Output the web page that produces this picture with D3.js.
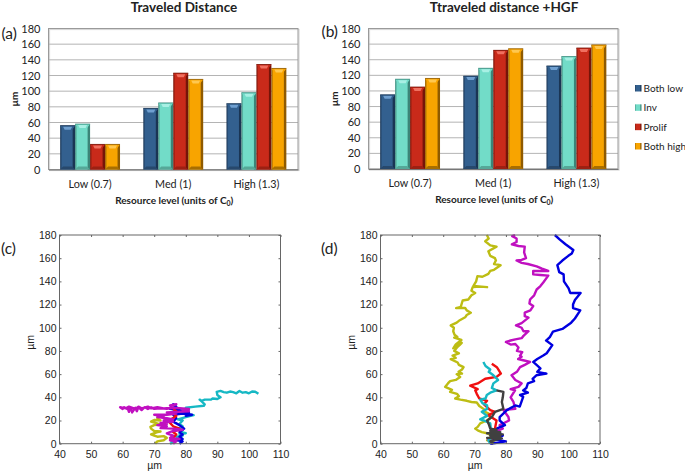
<!DOCTYPE html>
<html><head><meta charset="utf-8">
<script src="https://cdn.jsdelivr.net/npm/d3@7"></script>
<style>html,body{margin:0;padding:0;background:#fff}svg{display:block}text{fill:#222}</style>
</head><body><svg id="c" width="685" height="471"></svg>
<script>
const categories=["Low (0.7)","Med (1)","High (1.3)"];
const seriesNames=["Both low","Inv","Prolif","Both high"];
const colorsBase=["#33608f","#72dcc8","#c92a1a","#f8a400"];
const colorsDark=["#1a3554","#3b8578","#761408","#8f5a00"];
const colorsBottom=["#27486c","#55a898","#9c2012","#a86e00"];
const colorsLight=["#6f9fd0","#a8f0e4","#f07060","#ffc850"];
const valuesA=[[56,58,32,32],[78,85,123,115],[84,98,134,129]];
const valuesB=[[95,115,105,116],[119,129,152,154],[132,144,155,159]];
const yTicks=[0,20,40,60,80,100,120,140,160,180];
const xTicksTrack=[40,50,60,70,80,90,100,110];

// tracks: [x, y] in µm
const cCyan=[[75,0],[76,1],[75.5,2],[77.5,3],[78,5],[77,6],[79,7],[78,8.5],[80,9],[78.5,10],[79,12],[77.5,13],[79,15],[78,17],[79,20],[77.5,21],[80,23],[82.5,24.6],[80,25.5],[81,26],[77.5,26],[76,27.5],[78,28],[81,29.5],[80,31],[83,32],[85.7,32.7],[86,34],[85.2,36],[84.4,38],[85,37],[86,38],[88,38],[88.5,39],[90,38.5],[91,40],[90.5,41],[90,42],[89.8,44.7],[91,45.5],[92,44.5],[93,44],[94,45],[95,44.5],[96,43.5],[97,45.5],[98,44],[99,44.5],[100,43.5],[101,45],[102,44.8],[103,43]];
const cYellow=[[70.3,0],[71,2],[73,3],[74,5],[73,6.5],[71,6],[70,7],[69,8],[71,10],[72,10.5],[70,11],[69,13],[68.8,14.6],[70,16],[72,16.5],[70.9,17.5],[69,19],[70,20.5],[72,20],[71,22],[71.4,24]];
const cBlue=[[78,0],[79,2],[77.5,3],[79,4],[78,6],[79,8],[78,10],[79.5,13],[78,16],[76,19],[77,22],[76,25],[79,26],[82,25],[80,24],[81,27],[78,29],[75,30],[77,32],[76,34],[77,33]];
const cRed=[[75,3],[76,5],[77,8],[76,10],[78,13],[76,15],[75,18],[74.5,20],[76,22],[77,24],[75.5,27],[77,28],[76,30]];
const cMagenta=[[76,0],[77,2],[75,3],[78,4],[75,5],[76,7],[74,9],[76,11],[79,12],[76,13],[72,13.5],[74,15],[71,16],[74,17],[72,18],[76,19],[73,20],[76,21],[74,22],[71,23],[73,24],[70,25],[74,25],[77,26],[74,27],[81,28],[79,29],[81,30],[76,31],[74,30],[72,30.5],[70,30],[69,31.5],[68,30],[67,31.5],[66,29],[65,31.5],[64.5,28],[64,31],[63,27],[62.5,31.5],[62,27.5],[61.5,31],[62,29],[60.5,31.5],[60,30],[59.2,31.5],[61,30.5],[62,32],[64,30],[65,32],[66,30.5],[68,32],[69,30.5],[71,31.5],[73,30.5],[76,31],[75,33],[77,34],[76,33]];
const dYellow=[[75,0],[76,2],[74,3],[75.5,5],[75,7.5],[74,9],[72.3,10],[71,11.5],[70.2,13],[71,14.5],[71.8,17.5],[73,19],[74,20],[75,22],[74.5,26],[73,28],[72.9,30],[71.5,32.5],[70.7,35.5],[69,36],[67.5,37],[65.5,38],[63.8,39],[65,41],[64.4,43],[62.2,44.7],[62.8,46.5],[60.6,49],[61.5,52],[62.2,54],[64,55],[65.4,57.6],[64.3,60],[66,60.5],[64.9,62],[66,64],[66.5,66],[65,68],[64.6,70],[62.4,73],[64,74],[63,76],[65,78],[63.5,80],[64.4,83],[65.2,85],[65.9,87],[64.3,85.7],[63.2,82.3],[64,85.7],[65.8,89.5],[63.5,91.5],[64.5,92],[63.6,94],[63.2,97],[63.4,100],[62.4,102],[64.3,104.4],[65,106],[67,109],[67.5,111],[68.8,113],[67.5,115],[67,117],[64.1,117],[65.6,118],[66.2,123.5],[68,124.4],[69,128],[70.2,130],[69,132],[69.4,135],[72,135.5],[74,135],[69.6,136],[70.5,140],[70.9,144.5],[72.5,144],[74.4,146.5],[75,149],[76.2,150],[78.3,154],[76.2,155],[76.8,158],[76.5,160],[75,162],[74.4,166],[77,170],[75,171],[73.4,174.6],[74.5,177],[73.9,180]];
const dCyan=[[75,0],[74.4,3],[76,6],[75.2,12],[75,17.5],[73,20],[71.8,21],[74,24],[72.3,27.5],[74,30],[74,33],[72.5,35],[71.8,38],[73.5,39],[73.9,42],[75,44],[77,46],[75.5,48],[76,52],[77.5,55],[76,59],[74.5,62],[75,64],[73.5,67],[72.8,70.5]];
const dMagenta=[[74,3],[76,5],[75,9],[79,13],[78,16],[81,20],[80.8,23],[79.2,29],[83,30],[82.4,36],[81.5,40],[82.9,46],[81.5,47],[84,49],[85,52],[83,55],[81.8,59],[83.5,62],[84.5,66],[86,68],[87.7,70.5],[85.5,72],[83.9,73],[85,75],[84.5,76],[85.2,79],[83.5,80],[84,83],[83,86],[81.5,85.5],[80,87.7],[81.5,89],[83,90],[85,91],[85.6,93],[87.2,97],[85.6,97],[85,100],[83.2,102],[85,104],[87.2,108.7],[86,110],[86,113],[87.8,115],[88.7,118.7],[87.5,121],[87.7,124.4],[89,128],[89.8,133],[91,136],[91.9,139],[93.5,145],[91,145.5],[88.7,146],[88.7,149],[93.5,149],[91.5,151],[89.8,153],[87,155],[85,156],[83.4,158],[85,158.5],[86.4,160],[85.8,165],[86,170],[84,170.5],[81.9,172],[83.4,174],[83.4,177],[82,179],[82.9,180]];
const dBlue=[[75,0],[80,2],[76,4],[79,7],[76,12],[79.7,16],[78,20],[78,23],[80.3,29],[83,33],[84.4,32],[85.5,40.4],[84.5,42],[87,44],[85.5,46],[86.5,48],[87,52],[89,54],[88.5,56],[89.7,59],[92.9,60.5],[90,62],[91,65],[88.7,70.5],[90,73],[91.9,76],[93,78],[94.8,85],[92.8,89],[94,92],[95,96.6],[98,99],[100.8,104.4],[102,108],[103.7,115],[101.4,117],[101.4,120],[102,124],[103.8,130],[100.5,130],[100,134],[98.5,140],[98.4,146],[97,148],[96.4,154],[98,158],[99.9,162],[101,164],[101.5,167],[99,172],[97.2,176],[95.6,180]];
const dRed=[[75,0],[75.5,6],[76.5,13],[77,20],[74.4,24.6],[76.5,27.5],[75,29],[73,34],[74,37],[71.5,39],[70.7,43],[70.2,46],[71,47],[68.6,50],[71,52],[73.4,56],[77,57.6],[78.4,60.5],[77.1,66],[75.5,69]];
const dGray=[[76,0],[75,2],[78.7,4.6],[74,5],[78.2,6],[75,7],[79,8],[74,9],[78.2,10],[75,11],[77,12],[75,13],[74.5,17],[74,20],[75.5,23],[76.5,27.5],[79.2,30],[78.7,36],[79,40],[79.2,44.7],[77,46]];

const svg=d3.select("#c");
const defs=svg.append("defs");
colorsBase.forEach((c,i)=>{
  const g=defs.append("linearGradient").attr("id","bar"+i);
  [[0,colorsDark[i]],[.14,c],[.8,c],[.87,colorsDark[i]],[1,colorsDark[i]]].forEach(s=>g.append("stop").attr("offset",s[0]).attr("stop-color",s[1]));
});

function barPanel(x0,x1,yTop,yBot,values,title,titleX,tag,tagY,xLabelY,catY){
  const g=svg.append("g");
  const y=d3.scaleLinear().domain([0,180]).range([yBot,yTop]);
  const xOuter=d3.scaleBand().domain(categories).range([x0,x1]).paddingInner(.28).paddingOuter(.14);
  const xInner=d3.scaleBand().domain(seriesNames).range([0,xOuter.bandwidth()]);
  g.append("rect").attr("x",x0+1).attr("y",yTop+1).attr("width",x1-x0).attr("height",yBot-yTop).attr("fill","none").attr("stroke","#d8d8d8").attr("stroke-width",1.2);
  g.selectAll(".gl").data(yTicks).join("line").attr("x1",x0).attr("x2",x1).attr("y1",d=>y(d)).attr("y2",d=>y(d)).attr("stroke","#b4b4b4").attr("stroke-width",1);
  g.append("rect").attr("x",x0).attr("y",yTop).attr("width",x1-x0).attr("height",yBot-yTop).attr("fill","none").attr("stroke","#9a9a9a").attr("stroke-width",1);
  const ax=g.append("g").attr("transform",`translate(${x0},0)`).call(d3.axisLeft(y).tickValues(yTicks).tickSize(0).tickPadding(8));
  ax.select(".domain").remove();
  ax.selectAll("text").attr("font-family","Lato").attr("font-size",11).attr("fill","#333");
  const axb=g.append("g").attr("transform",`translate(0,${yBot})`).call(d3.axisBottom(xOuter).tickSize(0).tickPadding(catY-yBot-8));
  axb.select(".domain").attr("stroke","#777");
  axb.selectAll("text").attr("font-family","Lato").attr("font-size",10.8).attr("fill","#333");
  categories.forEach((c,ci)=>{
    seriesNames.forEach((s,si)=>{
      const v=values[ci][si], bx=xOuter(c)+xInner(s), w=xInner.bandwidth(), ty=y(v), by=y(0);
      const bar=g.append("g");
      bar.append("rect").attr("x",bx).attr("y",ty).attr("width",w).attr("height",by-ty).attr("fill",`url(#bar${si})`);
      bar.append("path").attr("d",`M${bx},${ty}H${bx+w}L${bx+w-3},${ty+4}H${bx+3}Z`).attr("fill",colorsBase[si]);
      bar.append("path").attr("d",`M${bx+3},${ty+1}H${bx+w-3}L${bx+w/2+3},${ty+4}H${bx+w/2-3}Z`).attr("fill",colorsLight[si]);
      bar.append("line").attr("x1",bx).attr("x2",bx+w).attr("y1",ty).attr("y2",ty).attr("stroke",colorsDark[si]).attr("stroke-width",.8);
      bar.append("path").attr("d",`M${bx},${by}H${bx+w}L${bx+w-3},${by-3}H${bx+3}Z`).attr("fill",colorsBottom[si]);
    });
  });
  g.append("text").attr("x",titleX).attr("y",12).attr("text-anchor","middle").attr("font-family","Lato").attr("font-weight",700).attr("font-size",13.5).attr("fill","#222").text(title);
  g.append("text").attr("x",x0-47).attr("y",tagY).attr("font-family","Lato").attr("font-size",15.5).attr("fill","#222").text(tag);
  g.append("text").attr("transform",`translate(${x0-31},${(y(100)+y(80))/2}) rotate(-90)`).attr("text-anchor","middle").attr("font-family","Lato").attr("font-weight",700).attr("font-size",10).attr("fill","#222").text("µm");
  const xl=g.append("text").attr("x",(x0+x1)/2+1).attr("y",xLabelY).attr("text-anchor","middle").attr("font-family","Lato").attr("font-weight",700).attr("font-size",10).attr("fill","#222").text("Resource level (units of C");
  xl.append("tspan").attr("font-size",7).attr("dy",2).text("0");
  xl.append("tspan").attr("dy",-2).text(")");
}
barPanel(48.5,298,28.5,169.5,valuesA,"Traveled Distance",184,"(a)",39,204,188);
barPanel(368.5,618,28.5,169,valuesB,"Ttraveled distance +HGF",504,"(b)",37,203,187);

// legend
const legY=d3.scalePoint().domain(seriesNames).range([88,146]);
seriesNames.forEach((s,i)=>{
  const yy=legY(s);
  svg.append("rect").attr("x",635).attr("y",yy-3).attr("width",6.5).attr("height",6.5).attr("fill",`url(#bar${i})`);
  svg.append("text").attr("x",643.5).attr("y",yy+4).attr("font-family","Lato").attr("font-size",10).attr("fill","#333").text(s);
});

function trackPanel(x0,x1,yTop,yBot,tracks,tag,tagX,tagY){
  const g=svg.append("g");
  const x=d3.scaleLinear().domain([40,110]).range([x0,x1]);
  const y=d3.scaleLinear().domain([0,180]).range([yBot,yTop]);
  const line=d3.line().x(d=>x(d[0])).y(d=>y(d[1]));
  tracks.forEach(t=>{
    g.append("path").attr("d",line(t.data)).attr("fill","none").attr("stroke",t.color).attr("stroke-width",2.4).attr("stroke-linejoin","round");
  });
  g.append("rect").attr("x",x0).attr("y",yTop).attr("width",x1-x0).attr("height",yBot-yTop).attr("fill","none").attr("stroke","#666").attr("stroke-width",1);
  const f=(sel)=>{sel.select(".domain").remove();sel.selectAll("line").attr("stroke","#666");sel.selectAll("text").attr("font-family","Liberation Sans").attr("font-size",10.5).attr("fill","#222");};
  g.append("g").attr("transform",`translate(${x0},0)`).call(d3.axisRight(y).tickValues(yTicks).tickSize(2)).call(f).selectAll("text").attr("x",-3).attr("text-anchor","end");
  g.append("g").attr("transform",`translate(${x1},0)`).call(d3.axisLeft(y).tickValues(yTicks).tickSize(2).tickFormat("")).call(f);
  g.append("g").attr("transform",`translate(0,${yBot})`).call(d3.axisTop(x).tickValues(xTicksTrack).tickSize(2)).call(f).selectAll("text").attr("y",14).attr("text-anchor","middle");
  g.append("g").attr("transform",`translate(0,${yTop})`).call(d3.axisBottom(x).tickValues(xTicksTrack).tickSize(2).tickFormat("")).call(f);
  g.append("text").attr("x",x(70)+.5).attr("y",yBot+25).attr("text-anchor","middle").attr("font-family","Liberation Sans").attr("font-size",10.5).attr("fill","#222").text("µm");
  g.append("text").attr("transform",`translate(${x0-26},${y(90)+3}) rotate(-90)`).attr("text-anchor","middle").attr("font-family","Liberation Sans").attr("font-size",10.5).attr("fill","#222").text("µm");
  g.append("text").attr("x",tagX).attr("y",tagY).attr("font-family","Lato").attr("font-size",15.5).attr("fill","#222").text(tag);
}
trackPanel(59.5,280.5,235,443.7,[
  {data:cCyan,color:"#16b8c4"},{data:cYellow,color:"#bdbd14"},{data:cBlue,color:"#0000e0"},{data:cRed,color:"#f01010"},{data:cMagenta,color:"#c010c0"}
],"(c)",1,254);
trackPanel(380.5,600,235,443.7,[
  {data:dYellow,color:"#bdbd14"},{data:dMagenta,color:"#c010c0"},{data:dBlue,color:"#0000e0"},{data:dRed,color:"#f01010"},{data:dCyan,color:"#16b8c4"},{data:dGray,color:"#404040"}
],"(d)",321,254);
</script></body></html>
